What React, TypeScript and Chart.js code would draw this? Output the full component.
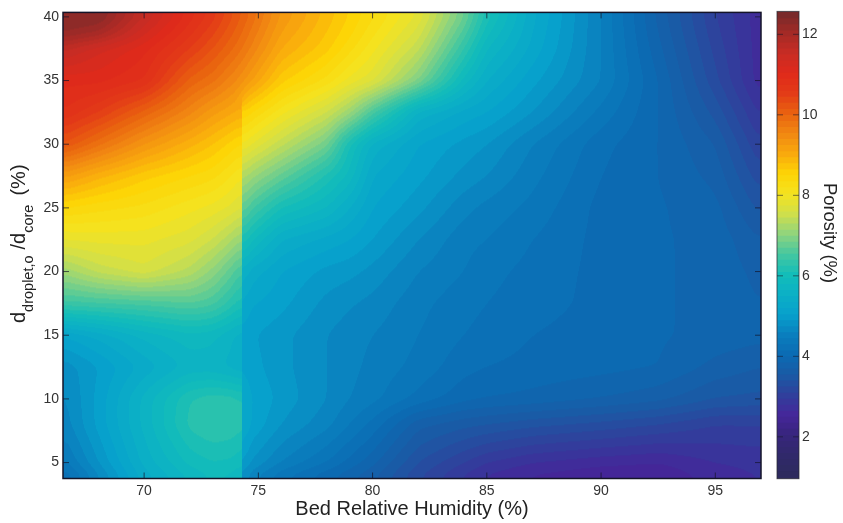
import React, { useEffect, useRef } from "react";
import { Chart, registerables } from "chart.js";

Chart.register(...registerables);

// Grid nodes
const humidity = [66.45, 68, 70, 72, 73, 74.2, 74.4, 76, 78, 79, 80, 82, 84, 85, 87, 90, 92.5, 95, 97];
const ratio = [3.75, 5, 8, 10, 12.5, 15, 17.5, 20, 22.5, 25, 27.5, 30, 32.5, 35, 37.5, 38.8, 40.35];

const r0375 = [4.0, 4.6, 5.3, 5.7, 5.85, 5.75, 4.6, 4.2, 3.9, 3.75, 3.6, 3.15, 2.8, 2.65, 2.5, 2.4, 2.4, 2.6, 2.7];
const r0500 = [4.3, 4.8, 5.45, 5.9, 6.0, 5.95, 4.85, 4.5, 4.2, 4.0, 3.8, 3.3, 3.0, 2.85, 2.7, 2.6, 2.55, 2.7, 2.75];
const r0800 = [4.55, 5.0, 5.6, 6.2, 6.3, 6.25, 5.15, 4.8, 4.55, 4.35, 4.15, 3.65, 3.5, 3.45, 3.35, 3.25, 3.15, 3.0, 3.0];
const r1000 = [4.6, 5.0, 5.6, 6.15, 6.25, 6.2, 5.15, 4.9, 4.65, 4.5, 4.4, 4.15, 3.95, 3.9, 3.85, 3.75, 3.65, 3.45, 3.4];
const r1250 = [4.7, 4.95, 5.3, 5.6, 5.6, 5.45, 5.05, 4.85, 4.65, 4.55, 4.45, 4.3, 4.1, 4.05, 4.0, 3.95, 3.9, 3.7, 3.6];
const r1500 = [5.1, 5.3, 5.6, 5.8, 5.75, 5.5, 5.0, 4.85, 4.65, 4.57, 4.5, 4.35, 4.2, 4.15, 4.05, 3.97, 3.92, 3.85, 3.8];
const r1750 = [6.4, 6.45, 6.5, 6.6, 6.5, 6.1, 5.15, 5.0, 4.75, 4.67, 4.6, 4.4, 4.25, 4.2, 4.12, 4.0, 3.92, 3.85, 3.75];
const r2000 = [7.1, 7.4, 7.6, 7.3, 7.0, 6.5, 5.4, 5.1, 4.9, 4.85, 4.75, 4.5, 4.35, 4.25, 4.15, 4.0, 3.92, 3.85, 3.7];
const r2250 = [7.8, 7.85, 7.85, 7.7, 7.5, 7.1, 6.0, 5.4, 5.2, 5.1, 4.95, 4.65, 4.4, 4.35, 4.2, 4.0, 3.92, 3.85, 3.6];
const r2500 = [8.4, 8.3, 8.2, 8.0, 7.9, 7.7, 6.6, 6.0, 5.7, 5.4, 5.1, 4.85, 4.55, 4.45, 4.3, 4.0, 3.92, 3.8, 3.4];
const r2750 = [9.2, 8.9, 8.6, 8.4, 8.3, 8.0, 7.2, 6.7, 6.1, 5.8, 5.25, 5.0, 4.75, 4.65, 4.4, 4.05, 3.9, 3.7, 3.2];
const r3000 = [10.2, 9.8, 9.3, 8.9, 8.7, 8.4, 7.9, 7.4, 6.8, 6.0, 5.5, 5.1, 4.9, 4.8, 4.5, 4.1, 3.9, 3.6, 3.0];
const r3250 = [10.8, 10.5, 10.0, 9.5, 9.2, 8.95, 8.5, 8.0, 7.5, 7.1, 6.5, 5.5, 5.2, 5.1, 4.8, 4.3, 3.9, 3.4, 2.8];
const r3500 = [11.0, 11.0, 10.8, 10.0, 9.8, 9.4, 9.3, 8.6, 8.2, 7.9, 7.7, 6.9, 5.8, 5.4, 5.0, 4.5, 3.9, 3.2, 2.6];
const r3750 = [11.6, 11.3, 11.0, 10.5, 10.2, 9.8, 9.7, 9.0, 8.6, 8.3, 8.0, 7.4, 6.3, 5.7, 5.2, 4.5, 3.8, 3.1, 2.6];
const r3880 = [12.2, 12.0, 11.3, 10.7, 10.4, 9.95, 9.85, 9.15, 8.7, 8.45, 8.15, 7.6, 6.55, 5.9, 5.25, 4.5, 3.75, 3.05, 2.6];
const r4035 = [12.3, 12.4, 11.6, 10.9, 10.6, 10.1, 10.0, 9.3, 8.8, 8.55, 8.3, 7.8, 6.8, 6.1, 5.3, 4.5, 3.7, 3.0, 2.6];
const porosity = [r0375, r0500, r0800, r1000, r1250, r1500, r1750, r2000, r2250, r2500, r2750, r3000, r3250, r3500, r3750, r3880, r4035];

// Colour bar
const colorValues = [0.96, 1.5, 2, 2.5, 3, 3.5, 4, 4.5, 5, 5.5, 6, 6.5, 7, 7.5, 8, 8.5, 9, 9.5, 10, 10.5, 11, 11.5, 12, 12.57];
const colorStops = ["#2c2a5c", "#30296a", "#37257c", "#45269a", "#30409c", "#1a5aa5", "#0b6bb3", "#0a7fbe", "#07a0cc", "#0bb0c6", "#13bdb9", "#45c7a0", "#8fd47e", "#d0df4a", "#f5e31f", "#fdd405", "#f9a90d", "#f18712", "#e9620f", "#e33b17", "#df2a1b", "#c72c24", "#a32a26", "#6d2a2c"];
const xTickStep = 5;
const yTickStep = 5;
const cTickStep = 2;
const LEVEL = 0.15;
const EDGE_X = 74.3; // humidity of the vertical step in the surface
const EDGE_TOP = 33.2; // ratio where that step ends

const rgbStops = colorStops.map((c) => [parseInt(c.slice(1, 3), 16), parseInt(c.slice(3, 5), 16), parseInt(c.slice(5, 7), 16)]);
function colorOf(v: number): number[] {
  const n = colorValues.length;
  if (v <= colorValues[0]) return rgbStops[0];
  if (v >= colorValues[n - 1]) return rgbStops[n - 1];
  let i = 0;
  while (colorValues[i + 1] < v) i++;
  const t = (v - colorValues[i]) / (colorValues[i + 1] - colorValues[i]);
  return rgbStops[i].map((a, k) => a + (rgbStops[i + 1][k] - a) * t);
}
function bracket(arr: number[], v: number): [number, number] {
  let i = 0;
  while (i < arr.length - 2 && arr[i + 1] < v) i++;
  const t = Math.max(0, Math.min(1, (v - arr[i]) / (arr[i + 1] - arr[i])));
  return [i, t];
}
function sample(x: number, y: number): number {
  const [i, tx] = bracket(humidity, x);
  const [j, ty] = bracket(ratio, y);
  const a = porosity[j][i] * (1 - tx) + porosity[j][i + 1] * tx;
  const b = porosity[j + 1][i] * (1 - tx) + porosity[j + 1][i + 1] * tx;
  return a * (1 - ty) + b * ty;
}
// Softens the kinks between grid nodes on screen, keeping the vertical step sharp.
function smoothRun(src: Float32Array, start: number, len: number, stride: number, r: number) {
  const out = new Float32Array(len);
  for (let i = 0; i < len; i++) {
    let s = 0;
    let n = 0;
    for (let k = Math.max(0, i - r); k <= Math.min(len - 1, i + r); k++) {
      s += src[start + k * stride];
      n++;
    }
    out[i] = s / n;
  }
  for (let i = 0; i < len; i++) src[start + i * stride] = out[i];
}

const heatPlugin = {
  id: "heat",
  beforeDatasetsDraw(chart: any) {
    const { ctx, chartArea: a, scales } = chart;
    const w = Math.ceil(a.right - a.left);
    const h = Math.ceil(a.bottom - a.top);
    const field = new Float32Array(w * h);
    for (let py = 0; py < h; py++) {
      const yv = scales.y.getValueForPixel(a.top + py + 0.5);
      for (let px = 0; px < w; px++) {
        field[py * w + px] = sample(scales.x.getValueForPixel(a.left + px + 0.5), yv);
      }
    }
    const ex = Math.round(scales.x.getPixelForValue(EDGE_X) - a.left);
    const ey = Math.round(scales.y.getPixelForValue(EDGE_TOP) - a.top);
    for (let pass = 0; pass < 2; pass++) {
      for (let py = 0; py < h; py++) {
        if (py < ey) {
          smoothRun(field, py * w, w, 1, 5);
        } else {
          smoothRun(field, py * w, ex, 1, 5);
          smoothRun(field, py * w + ex, w - ex, 1, 5);
        }
      }
      for (let px = 0; px < w; px++) smoothRun(field, px, h, w, 5);
    }
    const off = document.createElement("canvas");
    off.width = w;
    off.height = h;
    const oc = off.getContext("2d")!;
    const img = oc.createImageData(w, h);
    for (let k = 0; k < w * h; k++) {
      const q = (Math.floor(field[k] / LEVEL) + 0.5) * LEVEL;
      const c = colorOf(q);
      img.data[k * 4] = c[0];
      img.data[k * 4 + 1] = c[1];
      img.data[k * 4 + 2] = c[2];
      img.data[k * 4 + 3] = 255;
    }
    oc.putImageData(img, 0, 0);
    ctx.save();
    ctx.beginPath();
    ctx.rect(a.left, a.top, a.right - a.left, a.bottom - a.top);
    ctx.clip();
    ctx.filter = "blur(0.7px)";
    ctx.drawImage(off, a.left, a.top);
    ctx.filter = "none";
    ctx.restore();
  },
};

function frame(chart: any, withX: boolean, color: string, tick: string) {
  const { ctx, chartArea: a, scales } = chart;
  ctx.save();
  ctx.strokeStyle = tick;
  ctx.lineWidth = 1;
  ctx.beginPath();
  scales.y.ticks.forEach((t: any) => {
    const p = scales.y.getPixelForValue(t.value);
    ctx.moveTo(a.left, p);
    ctx.lineTo(a.left + 6, p);
    ctx.moveTo(a.right, p);
    ctx.lineTo(a.right - 6, p);
  });
  if (withX) {
    scales.x.ticks.forEach((t: any) => {
      const p = scales.x.getPixelForValue(t.value);
      ctx.moveTo(p, a.bottom);
      ctx.lineTo(p, a.bottom - 6);
      ctx.moveTo(p, a.top);
      ctx.lineTo(p, a.top + 6);
    });
  }
  ctx.stroke();
  ctx.strokeStyle = color;
  ctx.lineWidth = withX ? 1.5 : 1;
  ctx.strokeRect(a.left, a.top, a.right - a.left, a.bottom - a.top);
  ctx.restore();
}

const mainFrame = {
  id: "mainFrame",
  afterDatasetsDraw(chart: any) {
    frame(chart, true, "#141428", "rgba(20,20,40,0.7)");
    const { ctx } = chart;
    ctx.save();
    ctx.translate(25, 323);
    ctx.rotate(-Math.PI / 2);
    ctx.fillStyle = "#222";
    ctx.textBaseline = "alphabetic";
    const big = "20px 'Liberation Sans'";
    const small = "14.5px 'Liberation Sans'";
    let x = 0;
    const put = (s: string, f: string, dy: number, gap = 0) => {
      ctx.font = f;
      ctx.fillText(s, x + gap, dy);
      x += gap + ctx.measureText(s).width;
    };
    put("d", big, 0);
    put("droplet,o", small, 8);
    put("/d", big, 0, 6);
    put("core", small, 8);
    put("(%)", big, 0, 9);
    ctx.restore();
  },
};

const barFrame = {
  id: "barFrame",
  afterDatasetsDraw(chart: any) {
    frame(chart, false, "rgba(40,40,50,0.75)", "rgba(20,20,40,0.55)");
    const { ctx } = chart;
    ctx.save();
    ctx.translate(59, 233);
    ctx.rotate(Math.PI / 2);
    ctx.fillStyle = "#222";
    ctx.font = "18.4px 'Liberation Sans'";
    ctx.textAlign = "center";
    ctx.textBaseline = "middle";
    ctx.fillText("Porosity (%)", 0, 0);
    ctx.restore();
  },
};

export default function App() {
  const mainRef = useRef<HTMLCanvasElement>(null);
  const barRef = useRef<HTMLCanvasElement>(null);
  useEffect(() => {
    const tickFont = { family: "'Liberation Sans'", size: 14 };
    const nodes: { x: number; y: number; v: number }[] = [];
    ratio.forEach((y, j) => humidity.forEach((x, i) => nodes.push({ x, y, v: porosity[j][i] })));
    const main = new Chart(mainRef.current!, {
      type: "scatter",
      data: { datasets: [{ label: "Porosity (%)", data: nodes, pointRadius: 0, pointHoverRadius: 0 }] },
      plugins: [heatPlugin, mainFrame],
      options: {
        responsive: false,
        animation: false,
        layout: { padding: { top: 8.5, right: 9, left: 0, bottom: 0 } },
        plugins: { legend: { display: false }, tooltip: { enabled: false } },
        scales: {
          x: {
            type: "linear",
            min: 66.45,
            max: 97,
            grid: { display: false, drawTicks: false },
            border: { display: false },
            ticks: { stepSize: xTickStep, includeBounds: false, maxRotation: 0, color: "#333", font: tickFont, padding: 4 },
            title: { display: true, text: "Bed Relative Humidity (%)", color: "#222", font: { family: "'Liberation Sans'", size: 20 }, padding: { top: 0, bottom: 2 } },
            afterFit(s: any) { s.height = 44.5; },
          },
          y: {
            type: "linear",
            min: 3.75,
            max: 40.35,
            grid: { display: false, drawTicks: false },
            border: { display: false },
            ticks: { stepSize: yTickStep, includeBounds: false, color: "#333", font: tickFont, padding: 4 },
            afterFit(s: any) { s.width = 63; },
          },
        },
      },
    } as any);
    const levels: number[] = [];
    for (let v = 0.96; v < 12.57; v += 0.15) levels.push(v);
    const bar = new Chart(barRef.current!, {
      type: "bar",
      data: {
        labels: ["Porosity"],
        datasets: levels.map((l) => {
          const c = colorOf(l + 0.075).map(Math.round);
          return {
            data: [[l, Math.min(l + 0.18, 12.57)]],
            backgroundColor: `rgb(${c[0]},${c[1]},${c[2]})`,
            barPercentage: 1,
            categoryPercentage: 1,
            grouped: false,
          };
        }),
      },
      plugins: [barFrame],
      options: {
        responsive: false,
        animation: false,
        layout: { padding: { top: 8.5, left: 7, right: 0, bottom: 44.3 } },
        plugins: { legend: { display: false }, tooltip: { enabled: false } },
        scales: {
          x: { display: false },
          y: {
            position: "right",
            min: 0.96,
            max: 12.57,
            grid: { display: false, drawTicks: false },
            border: { display: false },
            ticks: { stepSize: cTickStep, includeBounds: false, color: "#333", font: tickFont, padding: 3 },
            afterFit(s: any) { s.width = 44; },
          },
        },
      },
    } as any);
    return () => {
      main.destroy();
      bar.destroy();
    };
  }, []);
  return (
    <div style={{ position: "fixed", left: 0, top: 0, width: 843, height: 523, background: "#fff" }}>
      <canvas ref={mainRef} width={770} height={523} style={{ position: "absolute", left: 0, top: 0, display: "block" }} />
      <canvas ref={barRef} width={73} height={523} style={{ position: "absolute", left: 770, top: 0, display: "block" }} />
    </div>
  );
}
